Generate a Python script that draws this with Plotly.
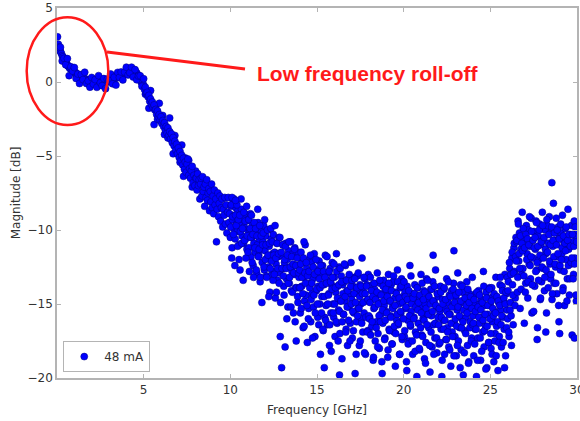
import plotly.graph_objects as go

# ---- data (frequency in GHz, magnitude in dB) ----
freq_a = [0.03,0.08,0.12,0.16,0.20,0.25,0.30,0.35,0.40,0.45,0.50,0.55,0.60,0.65,0.70,0.75,0.80,0.85,0.90,0.95,
          1.00,1.05,1.10,1.15,1.20,1.25,1.30,1.35,1.40,1.45,1.50,1.55,1.60,1.65,1.70,1.75,1.80,1.85,1.90,1.95,
          2.00,2.05,2.10,2.15,2.20,2.25,2.30,2.35,2.40,2.45,2.50,2.55,2.60,2.65,2.70,2.75,2.80,2.85,2.90,2.95,
          3.00,3.05,3.10,3.15,3.20,3.25,3.30,3.35,3.40,3.45,3.50,3.55,3.60,3.65,3.70,3.75,3.80,3.85,3.90,3.95,
          4.00,4.05,4.10,4.15,4.20,4.25,4.30,4.35,4.40,4.45,4.50,4.55,4.60,4.65,4.70,4.75,4.80,4.85,4.90,4.95,5.00]
mag_a = [3.05,2.55,2.35,2.2,2.05,1.95,1.78,1.7,1.52,1.45,1.3,1.28,1.12,1.1,0.98,0.92,0.85,0.9,0.72,0.75,
         0.62,0.68,0.5,0.55,0.38,0.48,0.3,0.4,0.22,0.3,0.18,0.28,0.08,0.2,0.05,0.15,-0.05,0.12,-0.02,0.1,
         -0.1,0.08,-0.05,0.15,-0.15,0.05,-0.08,0.12,-0.12,0.02,-0.05,0.15,-0.1,0.05,0.0,0.18,-0.08,0.1,0.02,0.2,
         0.05,0.22,0.1,0.3,0.12,0.32,0.2,0.38,0.25,0.45,0.3,0.5,0.35,0.55,0.42,0.6,0.45,0.62,0.5,0.7,
         0.55,0.72,0.6,0.78,0.62,0.85,0.68,0.82,0.75,0.7,0.78,0.55,0.62,0.4,0.45,0.2,0.25,0.0,0.05,-0.25,-0.2]

freq_a2 = [0.1,0.2,0.3,0.4,0.5,0.6,0.7,0.8,0.9,1.0,1.1,1.2,1.3,1.4,1.5,1.6,1.7,1.8,1.9,2.0,
           2.1,2.2,2.3,2.4,2.5,2.6,2.7,2.8,2.9,3.0,3.1,3.2,3.3,3.4,3.5,3.6,3.7,3.8,3.9,4.0,
           4.1,4.2,4.3,4.4,4.5,4.6,4.7,4.8,4.9,5.0,5.1,5.2,5.3,5.4,5.5,5.6,5.7,5.8,5.9,6.0,
           6.1,6.2,6.3,6.4,6.5,6.6,6.7,6.8,6.9,7.0,7.1,7.2,7.3,7.4,7.5,7.6,7.7,7.8,7.9,8.0]
mag_a2 = [2.34,2.35,1.42,1.6,1.17,1.58,0.43,1.03,0.74,0.98,0.24,0.54,-0.1,0.5,0.16,0.66,-0.1,0.08,-0.35,0.31,
          -0.14,0.16,-0.36,0.43,-0.05,-0.25,0.23,-0.45,0.19,0.1,0.54,-0.12,0.32,-0.21,0.65,0.31,0.68,0.14,0.67,1.0,
          0.48,0.63,1.0,0.33,0.84,0.15,0.4,0.42,-0.29,0.22,-0.82,-0.64,-1.77,-0.58,-1.59,-2.88,-1.6,-2.51,-1.44,-2.66,
          -2.26,-3.55,-3.05,-3.78,-2.43,-3.72,-4.85,-3.61,-4.63,-4.37,-5.43,-4.26,-6.37,-5.13,-5.83,-5.29,-6.4,-7.09,-6.31,-6.02]

freq_b = [5.05,5.10,5.15,5.20,5.25,5.30,5.35,5.40,5.45,5.50,5.55,5.60,5.65,5.70,5.75,5.80,5.85,5.90,5.95,6.00,
          6.05,6.10,6.15,6.20,6.25,6.30,6.35,6.40,6.45,6.50,6.55,6.60,6.65,6.70,6.75,6.80,6.85,6.90,6.95,7.00,
          7.05,7.10,7.15,7.20,7.25,7.30,7.35,7.40,7.45,7.50,7.55,7.60,7.65,7.70,7.75,7.80,7.85,7.90,7.95,8.00]
mag_b = [-0.5,-0.35,-0.75,-0.7,-1.0,-0.9,-1.3,-1.15,-1.5,-1.35,-1.75,-1.55,-1.9,-1.85,-2.2,-1.95,-2.35,-2.2,-2.6,-2.35,
         -2.8,-2.6,-3.0,-2.75,-3.25,-3.0,-3.45,-3.1,-3.6,-3.35,-3.85,-3.5,-4.1,-3.75,-4.3,-4.0,-4.6,-4.2,-4.85,-4.45,
         -5.1,-4.7,-5.3,-4.95,-5.6,-5.15,-5.9,-5.4,-6.1,-5.55,-5.2,-6.3,-5.85,-6.5,-6.0,-5.7,-6.8,-6.3,-7.0,-6.5]

freq_c = [8.04,8.08,8.12,8.16,8.20,8.24,8.28,8.32,8.36,8.40,8.44,8.48,8.52,8.56,8.60,8.64,8.68,8.72,8.76,8.80,
          8.84,8.88,8.92,8.96,9.00,9.04,9.08,9.12,9.16,9.20,9.24,9.28,9.32,9.36,9.40,9.44,9.48,9.52,9.56,9.60,
          9.64,9.68,9.72,9.76,9.80,9.84,9.88,9.92,9.96,10.00,10.04,10.08,10.12,10.16,10.20,10.24,10.28,10.32,10.36,10.40,
          10.44,10.48,10.52,10.56,10.60,10.64,10.68,10.72,10.76,10.80,10.84,10.88,10.92,10.96,11.00]
mag_c = [-6.5,-7.3,-6.2,-7.0,-6.6,-7.9,-6.9,-6.5,-7.7,-6.4,-7.4,-7.1,-8.4,-6.9,-7.8,-6.6,-8.0,-7.5,-7.2,-8.7,
         -7.4,-8.1,-6.9,-8.5,-7.7,-8.9,-7.3,-8.3,-7.9,-10.8,-8.6,-7.5,-9.1,-8.2,-7.7,-9.4,-8.5,-7.9,-9.8,-8.6,
         -9.0,-7.8,-9.6,-8.3,-10.2,-8.8,-7.8,-9.5,-8.9,-10.5,-8.4,-11.9,-9.3,-8.0,-9.9,-9.0,-10.6,-8.5,-9.6,-10.1,
         -8.7,-9.4,-11.0,-12.7,-9.7,-8.6,-10.4,-9.2,-10.9,-9.8,-8.9,-10.6,-9.4,-11.3,-10.0]

freq_d = [11.04,11.08,11.12,11.16,11.20,11.24,11.28,11.32,11.36,11.40,11.44,11.48,11.52,11.56,11.60,11.64,11.68,11.72,11.76,11.80,
          11.84,11.88,11.92,11.96,12.00,12.04,12.08,12.12,12.16,12.20,12.24,12.28,12.32,12.36,12.40,12.44,12.48,12.52,12.56,12.60,
          12.64,12.68,12.72,12.76,12.80,12.84,12.88,12.92,12.96,13.00,13.04,13.08,13.12,13.16,13.20,13.24,13.28,13.32,13.36,13.40,
          13.44,13.48,13.52,13.56,13.60,13.64,13.68,13.72,13.76,13.80,13.84,13.88,13.92,13.96]
mag_d = [-9.3,-11.2,-10.0,-8.9,-11.8,-10.5,-9.6,-12.4,-10.9,-9.8,-11.5,-10.2,-12.9,-11.0,-9.5,-11.7,-10.6,-13.5,-11.3,-10.1,
         -12.2,-10.8,-9.7,-12.7,-11.4,-10.4,-13.1,-11.9,-10.0,-12.5,-11.1,-14.2,-12.0,-10.6,-13.0,-11.6,-10.3,-12.8,-11.5,-14.6,
         -12.3,-10.9,-13.4,-11.8,-10.5,-12.9,-17.2,-11.7,-19.3,-12.6,-11.0,-13.8,-12.2,-17.9,-10.9,-13.3,-12.0,-15.2,-11.4,-13.6,
         -12.5,-10.8,-14.1,-12.8,-11.6,-15.6,-13.0,-11.2,-13.9,-17.5,-12.4,-14.5,-11.5,-13.2]

freq_h = [10.02,10.06,10.10,10.14,10.18,10.22,10.26,10.30,10.34,10.38,10.42,10.46,10.50,10.54,10.58,10.62,10.66,10.70,10.74,10.78,
          10.82,10.86,10.90,10.94,10.98,11.02,11.06,11.10,11.14,11.18,11.22,11.26,11.30,11.34,11.38,11.42,11.46,11.50,11.54,11.58,
          11.62,11.66,11.70,11.74,11.78,11.82,11.86,11.90,11.94,11.98,12.02,12.06,12.10,12.14,12.18,12.22,12.26,12.30,12.34,12.38,
          12.42,12.46,12.50,12.54,12.58,12.62,12.66,12.70,12.74,12.78,12.82,12.86,12.90,12.94,12.98,13.02,13.06,13.10,13.14,13.18,
          13.22,13.26,13.30,13.34,13.38,13.42,13.46,13.50,13.54,13.58,13.62,13.66,13.70,13.74,13.78,13.82,13.86,13.90,13.94,13.98]
mag_h = [-9.8,-8.3,-11.2,-9.1,-10.3,-7.9,-12.4,-9.0,-9.7,-8.3,-11.1,-9.3,-12.0,-9.0,-10.1,-7.9,-10.9,-9.9,-13.4,-8.8,
         -10.7,-9.4,-11.9,-8.4,-10.4,-11.5,-9.3,-12.8,-9.9,-10.5,-9.0,-12.2,-10.3,-13.2,-9.5,-11.2,-9.9,-12.7,-10.4,-8.6,
         -11.8,-11.3,-9.7,-13.2,-10.4,-14.9,-11.0,-10.2,-12.5,-9.3,-12.0,-11.0,-13.2,-10.0,-11.7,-14.5,-10.9,-12.6,-9.9,-12.1,
         -10.8,-13.4,-11.7,-13.0,-9.7,-11.9,-14.2,-10.9,-12.6,-11.6,-13.6,-10.5,-14.9,-11.5,-12.6,-11.0,-13.1,-14.4,-12.0,-11.1,
         -12.6,-16.0,-11.7,-13.6,-10.8,-13.2,-12.5,-15.2,-11.8,-14.2,-12.3,-12.9,-11.3,-16.2,-12.4,-13.9,-11.9,-14.9,-12.9,-13.9]

freq_e1 = [14.00,14.04,14.08,14.12,14.16,14.20,14.24,14.28,14.32,14.36,14.40,14.44,14.48,14.52,14.56,14.60,14.64,14.68,14.72,14.76,
           14.80,14.84,14.88,14.92,14.96,15.00,15.04,15.08,15.12,15.16,15.20,15.24,15.28,15.32,15.36,15.40,15.44,15.48,15.52,15.56,
           15.60,15.64,15.68,15.72,15.76,15.80,15.84,15.88,15.92,15.96]
mag_e1 = [-12.7,-15.6,-11.5,-13.8,-12.2,-16.6,-13.2,-14.8,-11.0,-14.4,-12.6,-17.6,-13.0,-15.3,-12.0,-13.6,-16.2,-12.2,-14.3,-13.3,
          -15.2,-11.6,-17.2,-13.0,-14.1,-12.7,-15.9,-13.8,-12.1,-15.0,-18.4,-13.1,-14.5,-12.4,-16.8,-13.7,-15.9,-11.7,-15.1,-13.4,
          -16.4,-12.9,-14.3,-17.8,-12.6,-15.6,-13.7,-12.2,-15.0,-15.9]

freq_e2 = [16.00,16.04,16.08,16.12,16.16,16.20,16.24,16.28,16.32,16.36,16.40,16.44,16.48,16.52,16.56,16.60,16.64,16.68,16.72,16.76,
           16.80,16.84,16.88,16.92,16.96,17.00,17.04,17.08,17.12,17.16,17.20,17.24,17.28,17.32,17.36,17.40,17.44,17.48,17.52,17.56,
           17.60,17.64,17.68,17.72,17.76,17.80,17.84,17.88,17.92,17.96]
mag_e2 = [-13.2,-17.2,-14.2,-11.6,-16.3,-13.8,-15.4,-12.5,-17.0,-14.8,-13.1,-18.7,-13.7,-15.7,-13.5,-14.8,-12.4,-16.7,-14.1,-17.8,
          -13.3,-15.2,-14.3,-16.3,-12.2,-14.7,-17.3,-13.8,-15.6,-13.2,-19.7,-14.2,-16.2,-13.1,-15.3,-14.0,-17.8,-13.7,-15.0,-16.0,
          -11.9,-16.9,-14.2,-15.6,-13.3,-18.4,-14.8,-13.7,-16.8,-13.0]

freq_e3 = [18.00,18.04,18.08,18.12,18.16,18.20,18.24,18.28,18.32,18.36,18.40,18.44,18.48,18.52,18.56,18.60,18.64,18.68,18.72,18.76,
           18.80,18.84,18.88,18.92,18.96,19.00,19.04,19.08,19.12,19.16,19.20,19.24,19.28,19.32,19.36,19.40,19.44,19.48,19.52,19.56,
           19.60,19.64,19.68,19.72,19.76,19.80,19.84,19.88,19.92,19.96]
mag_e3 = [-16.8,-15.9,-13.2,-14.7,-16.5,-13.7,-18.8,-15.3,-14.0,-17.5,-14.5,-16.2,-12.9,-17.0,-14.9,-18.0,-13.6,-15.7,-14.3,-19.7,
          -16.3,-13.4,-15.1,-17.3,-14.1,-15.5,-14.4,-18.6,-13.0,-16.7,-14.8,-15.8,-13.7,-17.7,-15.2,-13.5,-16.9,-14.6,-19.2,-14.2,
          -16.1,-12.7,-16.4,-15.0,-18.4,-13.9,-15.6,-13.3,-17.4,-14.5]

freq_e4 = [20.00,20.04,20.08,20.12,20.16,20.20,20.24,20.28,20.32,20.36,20.40,20.44,20.48,20.52,20.56,20.60,20.64,20.68,20.72,20.76,
           20.80,20.84,20.88,20.92,20.96,21.00,21.04,21.08,21.12,21.16,21.20,21.24,21.28,21.32,21.36,21.40,21.44,21.48,21.52,21.56,
           21.60,21.64,21.68,21.72,21.76,21.80,21.84,21.88,21.92,21.96]
mag_e4 = [-13.5,-17.2,-14.2,-15.3,-18.9,-13.8,-16.1,-14.7,-17.5,-12.4,-16.5,-15.5,-14.3,-18.4,-14.6,-15.9,-13.7,-16.9,-14.9,-19.9,
          -13.9,-16.3,-14.5,-18.1,-15.4,-13.0,-17.1,-15.1,-16.0,-14.1,-18.7,-15.0,-17.6,-13.3,-15.7,-14.4,-16.6,-14.7,-19.6,-14.0,
          -15.8,-17.9,-13.5,-16.4,-14.8,-17.3,-12.7,-15.2,-18.3,-14.3]

freq_e5 = [22.00,22.04,22.08,22.12,22.16,22.20,22.24,22.28,22.32,22.36,22.40,22.44,22.48,22.52,22.56,22.60,22.64,22.68,22.72,22.76,
           22.80,22.84,22.88,22.92,22.96,23.00,23.04,23.08,23.12,23.16,23.20,23.24,23.28,23.32,23.36,23.40,23.44,23.48,23.52,23.56,
           23.60,23.64,23.68,23.72,23.76,23.80,23.84,23.88,23.92,23.96]
mag_e5 = [-14.5,-17.7,-15.5,-13.8,-16.7,-19.9,-14.7,-16.1,-14.0,-18.4,-15.3,-17.4,-13.3,-16.6,-14.9,-17.9,-14.4,-15.7,-19.2,-14.1,
          -16.9,-15.1,-13.6,-16.3,-17.2,-14.5,-18.5,-15.4,-12.9,-17.5,-15.0,-16.6,-13.7,-18.1,-16.0,-14.2,-19.8,-14.9,-16.8,-14.6,
          -15.9,-13.5,-17.8,-15.2,-18.9,-14.3,-16.2,-15.3,-17.3,-13.2]

freq_e6 = [24.00,24.04,24.08,24.12,24.16,24.20,24.24,24.28,24.32,24.36,24.40,24.44,24.48,24.52,24.56,24.60,24.64,24.68,24.72,24.76,
           24.80,24.84,24.88,24.92,24.96,25.00,25.04,25.08,25.12,25.16,25.20,25.24,25.28,25.32,25.36,25.40,25.44,25.48,25.52,25.56,
           25.60,25.64,25.68,25.72,25.76,25.80,25.84,25.88,25.92,25.96]
mag_e6 = [-15.8,-18.5,-14.9,-16.7,-14.3,-19.9,-15.3,-17.3,-14.1,-16.3,-15.0,-18.8,-14.7,-15.9,-16.9,-12.8,-17.9,-15.1,-16.5,-14.2,
          -19.3,-15.7,-14.6,-17.6,-13.9,-15.1,-18.0,-13.9,-16.2,-14.5,-18.9,-15.5,-17.0,-13.2,-16.5,-14.6,-19.5,-14.9,-17.2,-13.7,
          -15.4,-17.9,-13.8,-15.9,-14.8,-16.7,-13.0,-18.5,-14.3,-15.4]

freq_i1 = [14.02,14.06,14.10,14.14,14.18,14.22,14.26,14.30,14.34,14.38,14.42,14.46,14.50,14.54,14.58,14.62,14.66,14.70,14.74,14.78,
           14.82,14.86,14.90,14.94,14.98,15.02,15.06,15.10,15.14,15.18,15.22,15.26,15.30,15.34,15.38,15.42,15.46,15.50,15.54,15.58,
           15.62,15.66,15.70,15.74,15.78,15.82,15.86,15.90,15.94,15.98,16.02,16.06,16.10,16.14,16.18,16.22,16.26,16.30,16.34,16.38,
           16.42,16.46,16.50,16.54,16.58,16.62,16.66,16.70,16.74,16.78,16.82,16.86,16.90,16.94,16.98,17.02,17.06,17.10,17.14,17.18,
           17.22,17.26,17.30,17.34,17.38,17.42,17.46,17.50,17.54,17.58,17.62,17.66,17.70,17.74,17.78,17.82,17.86,17.90,17.94,17.98]
mag_i1 = [-13.9,-12.3,-15.3,-13.2,-14.3,-11.9,-16.5,-12.9,-13.6,-12.2,-15.1,-13.1,-16.0,-12.8,-13.9,-11.7,-14.7,-13.6,-17.3,-12.5,
          -14.4,-13.0,-15.6,-12.0,-14.0,-15.0,-12.8,-16.4,-13.3,-13.9,-12.4,-15.6,-13.7,-16.7,-12.8,-14.5,-13.2,-16.1,-13.6,-11.8,
          -15.0,-14.4,-12.8,-16.4,-13.5,-18.2,-14.0,-13.2,-15.6,-12.3,-15.0,-13.9,-16.2,-12.8,-14.6,-17.5,-13.7,-15.5,-12.6,-14.8,
          -13.5,-16.2,-14.3,-15.7,-12.3,-14.5,-16.9,-13.4,-15.2,-14.1,-16.1,-13.0,-17.5,-13.8,-15.0,-13.4,-15.5,-16.8,-14.3,-13.3,
          -14.9,-18.4,-13.9,-15.8,-12.9,-15.3,-14.5,-17.5,-13.8,-16.3,-14.3,-14.9,-13.2,-18.3,-14.3,-15.9,-13.8,-16.9,-14.7,-15.8]

freq_i2 = [18.02,18.06,18.10,18.14,18.18,18.22,18.26,18.30,18.34,18.38,18.42,18.46,18.50,18.54,18.58,18.62,18.66,18.70,18.74,18.78,
           18.82,18.86,18.90,18.94,18.98,19.02,19.06,19.10,19.14,19.18,19.22,19.26,19.30,19.34,19.38,19.42,19.46,19.50,19.54,19.58,
           19.62,19.66,19.70,19.74,19.78,19.82,19.86,19.90,19.94,19.98,20.02,20.06,20.10,20.14,20.18,20.22,20.26,20.30,20.34,20.38,
           20.42,20.46,20.50,20.54,20.58,20.62,20.66,20.70,20.74,20.78,20.82,20.86,20.90,20.94,20.98,21.02,21.06,21.10,21.14,21.18,
           21.22,21.26,21.30,21.34,21.38,21.42,21.46,21.50,21.54,21.58,21.62,21.66,21.70,21.74,21.78,21.82,21.86,21.90,21.94,21.98]
mag_i2 = [-16.0,-14.9,-17.1,-14.1,-16.2,-14.5,-18.6,-13.6,-15.2,-14.7,-16.6,-14.2,-17.9,-15.0,-15.8,-13.4,-16.2,-14.4,-18.9,-15.4,
          -13.8,-14.8,-17.4,-16.1,-14.0,-15.6,-14.5,-18.1,-13.6,-16.8,-14.8,-15.9,-14.1,-17.7,-15.3,-13.1,-16.5,-15.1,-17.0,-14.3,
          -15.7,-13.5,-16.3,-14.6,-18.4,-15.5,-13.8,-17.2,-14.9,-16.0,-13.5,-16.8,-14.5,-15.2,-19.5,-14.7,-17.7,-14.1,-15.8,-16.4,
          -13.1,-15.0,-17.5,-14.6,-16.0,-14.3,-18.2,-15.2,-17.1,-13.9,-15.4,-14.9,-18.0,-14.4,-16.6,-15.6,-13.6,-17.2,-14.7,-16.1,
          -14.2,-19.0,-15.3,-16.4,-13.4,-15.7,-14.5,-17.8,-15.0,-16.9,-14.0,-15.5,-14.8,-18.4,-13.8,-16.3,-15.1,-17.3,-14.3,-15.9]

freq_i3 = [22.02,22.06,22.10,22.14,22.18,22.22,22.26,22.30,22.34,22.38,22.42,22.46,22.50,22.54,22.58,22.62,22.66,22.70,22.74,22.78,
           22.82,22.86,22.90,22.94,22.98,23.02,23.06,23.10,23.14,23.18,23.22,23.26,23.30,23.34,23.38,23.42,23.46,23.50,23.54,23.58,
           23.62,23.66,23.70,23.74,23.78,23.82,23.86,23.90,23.94,23.98,24.02,24.06,24.10,24.14,24.18,24.22,24.26,24.30,24.34,24.38,
           24.42,24.46,24.50,24.54,24.58,24.62,24.66,24.70,24.74,24.78,24.82,24.86,24.90,24.94,24.98,25.02,25.06,25.10,25.14,25.18,
           25.22,25.26,25.30,25.34,25.38,25.42,25.46,25.50,25.54,25.58,25.62,25.66,25.70,25.74,25.78,25.82,25.86,25.90,25.94,25.98]
mag_i3 = [-16.4,-15.3,-17.6,-14.2,-15.9,-18.8,-15.0,-16.7,-13.9,-16.1,-14.7,-17.4,-15.5,-16.9,-13.5,-15.7,-18.1,-14.5,-16.3,-15.2,
          -17.2,-14.0,-18.5,-14.9,-16.0,-14.4,-16.5,-17.8,-15.2,-14.2,-15.8,-19.3,-14.8,-16.6,-13.8,-16.2,-15.4,-18.3,-14.6,-17.0,
          -15.1,-15.6,-14.0,-19.0,-14.9,-16.6,-14.5,-17.5,-15.3,-16.4,-16.3,-14.7,-17.7,-15.5,-16.7,-14.2,-18.8,-15.2,-15.9,-14.4,
          -17.3,-15.4,-18.2,-14.9,-16.1,-13.8,-16.8,-15.7,-19.4,-14.6,-16.5,-15.1,-17.6,-14.0,-16.0,-17.0,-14.8,-18.4,-15.3,-15.8,
          -14.3,-17.5,-15.6,-18.5,-14.5,-16.2,-14.8,-17.6,-15.1,-13.2,-16.4,-15.8,-14.1,-17.6,-14.6,-19.3,-15.0,-14.2,-16.6,-13.2]

freq_f = [26.00,26.04,26.08,26.12,26.16,26.20,26.24,26.28,26.32,26.36,26.40,26.44,26.48]
mag_f = [-16.0,-13.5,-17.2,-12.6,-14.9,-15.8,-11.9,-13.7,-16.4,-11.2,-12.8,-14.6,-10.5]

freq_j1 = [26.02,26.06,26.10,26.14,26.18,26.22,26.26,26.30,26.34,26.38,26.42,26.46]
mag_j1 = [-14.1,-16.9,-12.2,-15.4,-13.0,-17.8,-11.5,-14.4,-12.9,-10.9,-15.1,-11.8]

freq_g = [26.52,26.56,26.60,26.64,26.68,26.72,26.76,26.80,26.84,26.88,26.92,26.96,27.00,27.04,27.08,27.12,27.16,27.20,27.24,27.28,
          27.32,27.36,27.40,27.44,27.48,27.52,27.56,27.60,27.64,27.68,27.72,27.76,27.80,27.84,27.88,27.92,27.96,28.00,28.04,28.08,
          28.12,28.16,28.20,28.24,28.28,28.32,28.36,28.40,28.44,28.48,28.52,28.56,28.60,28.64,28.68,28.72,28.76,28.80,28.84,28.88,
          28.92,28.96,29.00,29.04,29.08,29.12,29.16,29.20,29.24,29.28,29.32,29.36,29.40,29.44,29.48,29.52,29.56,29.60,29.64,29.68,
          29.72,29.76,29.80,29.84,29.88,29.92,29.96,30.00]
mag_g = [-10.8,-14.2,-9.4,-12.1,-10.2,-15.3,-11.3,-13.0,-8.8,-12.6,-10.5,-16.3,-11.0,-13.6,-9.7,-11.6,-14.6,-10.0,-12.3,-11.1,
         -13.3,-9.2,-15.6,-10.7,-11.9,-10.1,-13.8,-11.3,-9.4,-12.7,-16.6,-10.4,-12.0,-9.6,-14.7,-11.0,-13.5,-8.8,-12.6,-10.7,
         -14.1,-10.0,-11.6,-15.6,-9.7,-13.0,-10.9,-9.1,-12.3,-13.3,-10.1,-14.7,-11.1,-8.2,-13.6,-10.7,-12.5,-9.2,-14.3,-11.8,
         -9.8,-16.2,-10.5,-12.7,-10.2,-11.6,-9.0,-13.9,-10.8,-15.1,-9.9,-12.0,-11.0,-13.3,-8.6,-11.3,-14.4,-10.3,-12.3,-9.7,
         -17.1,-10.8,-13.0,-9.4,-11.9,-10.4,-14.8,-10.0]

freq_j2 = [26.50,26.54,26.58,26.62,26.66,26.70,26.74,26.78,26.82,26.86,26.90,26.94,26.98,27.02,27.06,27.10,27.14,27.18,27.22,27.26,
           27.30,27.34,27.38,27.42,27.46,27.50,27.54,27.58,27.62,27.66,27.70,27.74,27.78,27.82,27.86,27.90,27.94,27.98,28.02,28.06,
           28.10,28.14,28.18,28.22,28.26,28.30,28.34,28.38,28.42,28.46,28.50,28.54,28.58,28.62,28.66,28.70,28.74,28.78,28.82,28.86,
           28.90,28.94,28.98,29.02,29.06,29.10,29.14,29.18,29.22,29.26,29.30,29.34,29.38,29.42,29.46,29.50,29.54,29.58,29.62,29.66,
           29.70,29.74,29.78,29.82,29.86,29.90,29.94,29.98]
mag_j2 = [-12.1,-10.7,-13.2,-9.6,-11.6,-12.6,-10.4,-14.0,-10.9,-11.4,-9.9,-13.1,-11.2,-14.2,-10.3,-12.0,-10.6,-13.5,-11.0,-9.1,
          -12.4,-11.8,-10.1,-13.7,-10.7,-15.5,-11.2,-10.5,-12.8,-9.5,-12.2,-11.1,-13.4,-10.0,-11.7,-14.6,-10.8,-12.5,-9.7,-11.9,
          -10.5,-13.2,-11.3,-12.7,-9.3,-11.5,-13.9,-10.3,-12.1,-11.0,-13.0,-9.8,-14.3,-10.7,-11.8,-10.2,-12.3,-13.6,-11.0,-10.0,
          -11.6,-15.1,-10.6,-12.4,-9.6,-12.0,-11.2,-14.1,-10.4,-12.8,-10.9,-11.4,-9.8,-14.8,-10.7,-12.4,-10.3,-13.3,-11.1,-12.2,
          -11.9,-10.3,-13.3,-11.1,-12.3,-9.8,-14.4,-10.8]

freq_extra = [10.1,10.3,14.25,15.42,16.3,21.7,22.9,27.7,28.2,28.55,29.0,29.85]
mag_extra = [-7.8,-8.0,-10.8,-19.3,-19.8,-11.7,-11.4,-17.4,-16.9,-6.8,-17.0,-17.3]

x_tick_vals = [5, 10, 15, 20, 25, 30]
y_tick_vals = [5, 0, -5, -10, -15, -20]
series_name = "48 mA"
annotation_text = "Low frequency roll-off"

freq_blocks = [freq_a, freq_a2, freq_b, freq_c, freq_d, freq_h, freq_e1, freq_e2, freq_e3, freq_e4, freq_e5, freq_e6,
               freq_i1, freq_i2, freq_i3, freq_f, freq_j1, freq_g, freq_j2, freq_extra]
mag_blocks = [mag_a, mag_a2, mag_b, mag_c, mag_d, mag_h, mag_e1, mag_e2, mag_e3, mag_e4, mag_e5, mag_e6,
              mag_i1, mag_i2, mag_i3, mag_f, mag_j1, mag_g, mag_j2, mag_extra]
freq, mag = [], []
for fb, mb in zip(freq_blocks, mag_blocks):
    assert len(fb) == len(mb), (fb[0], len(fb), len(mb))
    freq += fb
    mag += mb

fig = go.Figure()
fig.add_trace(go.Scatter(
    x=freq, y=mag, mode="markers", name=series_name,
    marker=dict(color="#0000ff", size=7, line=dict(color="#000080", width=0.5)),
))

axis_common = dict(
    showgrid=False, zeroline=False, showline=True, mirror="ticks", automargin=False,
    linecolor="#b4b4b4", linewidth=1.5, ticks="inside", ticklen=4,
    tickcolor="#b4b4b4", tickwidth=1, ticklabeloverflow="allow",
    tickfont=dict(family="DejaVu Sans", size=12, color="#333333"),
)

fig.update_layout(
    width=580, height=421,
    margin=dict(l=57, r=3, t=8, b=43),
    paper_bgcolor="white", plot_bgcolor="white",
    font=dict(family="DejaVu Sans", size=12, color="#333333"),
    xaxis=dict(range=[0, 30], tickvals=x_tick_vals,
               title=dict(text="Frequency [GHz]", font=dict(size=12), standoff=9),
               **axis_common),
    yaxis=dict(range=[-20, 5], tickvals=y_tick_vals,
               title=dict(text="Magnitude [dB]", font=dict(size=12), standoff=4),
               **axis_common),
    showlegend=True,
    legend=dict(x=0.012, y=0.016, xanchor="left", yanchor="bottom",
                bordercolor="#b4b4b4", borderwidth=1, bgcolor="white",
                font=dict(family="DejaVu Sans", size=12, color="#333333")),
    shapes=[
        dict(type="circle", xref="paper", yref="paper",
             x0=-0.0583, x1=0.0987, y0=0.684, y1=0.975,
             line=dict(color="#ff1a1a", width=2.5)),
        dict(type="line", xref="paper", yref="paper",
             x0=0.0962, y0=0.881, x1=0.3615, y1=0.835,
             line=dict(color="#ff1a1a", width=3)),
    ],
    annotations=[
        dict(text="<b>" + annotation_text + "</b>", xref="paper", yref="paper",
             x=0.599, y=0.824, xanchor="center", yanchor="middle", showarrow=False,
             font=dict(family="Liberation Sans", size=21, color="#ff1a1a")),
    ],
)

fig.write_html("out.html", config={"displayModeBar": False},
               post_script="document.body.style.margin='0px';")
